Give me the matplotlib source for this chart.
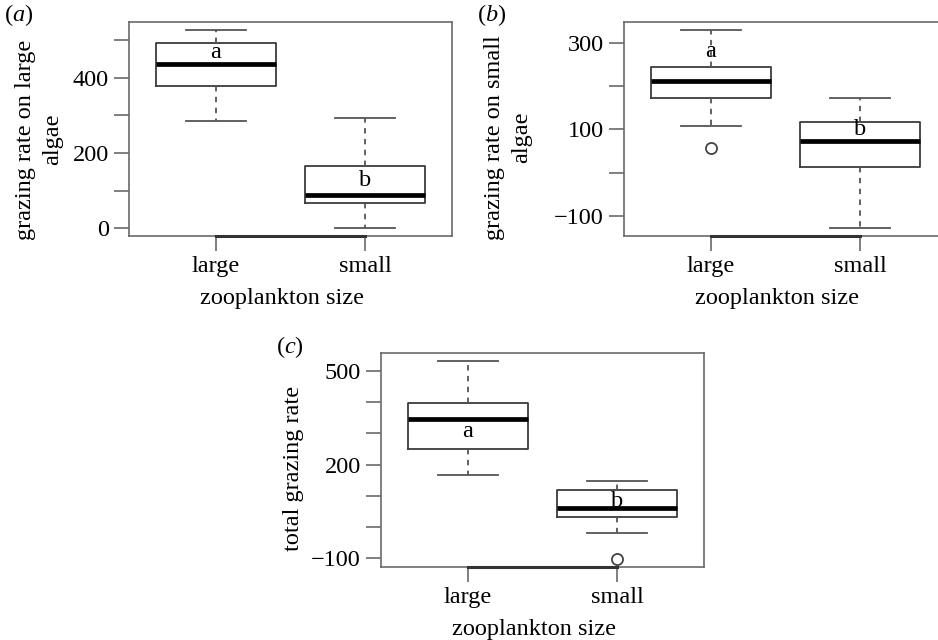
import numpy as np
import matplotlib.pyplot as plt

plt.rcParams['font.family'] = 'Liberation Serif'
plt.rcParams['mathtext.fontset'] = 'custom'
plt.rcParams['mathtext.rm'] = 'Liberation Serif'
plt.rcParams['mathtext.it'] = 'Liberation Serif:italic'

groups = ['large', 'small']
letters = ['a', 'b']

# panel a: grazing on large algae
a_whislo = [285, 0]
a_q1 = [379, 67]
a_med = [437, 88]
a_q3 = [493, 165]
a_whishi = [528, 293]
a_fliers = [[], []]
a_letter_y = [467, 128]

# panel b: grazing on small algae
b_whislo = [109, -129]
b_q1 = [172, 12]
b_med = [213, 72]
b_q3 = [246, 118]
b_whishi = [331, 174]
b_fliers = [[56], []]
b_letter_y = [280, 100]

# panel c: total grazing
c_whislo = [166, -20]
c_q1 = [250, 32]
c_med = [346, 60]
c_q3 = [397, 118]
c_whishi = [532, 147]
c_fliers = [[], [-103]]
c_letter_y = [306, 80]

W, H = 938, 640
fig = plt.figure(figsize=(W/100, H/100), dpi=100)

edge = '#3c3c3c'
frame = '#6a6a6a'
fs = 17.5


def panel(px, whislo, q1, med, q3, whishi, fliers, letter_y,
          ylabel, major, minor, ylab_x, ylab_y):
    left, top, right, bottom = px
    ax = fig.add_axes([left/W, (H-bottom)/H, (right-left)/W, (bottom-top)/H])
    stats = []
    for i in range(len(groups)):
        stats.append(dict(med=med[i], q1=q1[i], q3=q3[i], whislo=whislo[i],
                          whishi=whishi[i], fliers=fliers[i], label=groups[i]))
    pos = np.arange(1, len(groups)+1)
    ax.bxp(stats, positions=pos, widths=0.8, patch_artist=False,
           boxprops=dict(color=edge, lw=1.3),
           medianprops=dict(color='black', lw=3.4, solid_capstyle='butt'),
           whiskerprops=dict(color='#555555', lw=1.3, linestyle=(0, (3, 3))),
           capprops=dict(color='#555555', lw=1.3),
           capwidths=0.4,
           flierprops=dict(marker='o', markersize=8, markerfacecolor='white',
                           markeredgecolor='#444444', markeredgewidth=1.3))
    vals = whislo + whishi + sum(fliers, [])
    lo, hi = min(vals), max(vals)
    r = hi - lo
    ax.set_ylim(lo - 0.04*r, hi + 0.04*r)
    ax.set_xlim(0.42, 2.58)
    for s in ax.spines.values():
        s.set_color(frame)
        s.set_linewidth(1.2)
    ax.plot([pos[0], pos[-1]], [lo - 0.04*r]*2, color='#333333', lw=2.2,
            clip_on=False, zorder=5)
    ax.set_xticks(pos)
    ax.set_xticklabels(groups, fontsize=fs)
    ax.set_yticks(major)
    ax.set_yticks(minor, minor=True)
    ax.set_yticklabels(['\u2212' + str(-v) if v < 0 else str(v) for v in major],
                       fontsize=fs)
    ax.tick_params(axis='both', which='both', length=10.5, width=1.2,
                   color=frame, pad=4)
    ax.tick_params(axis='x', pad=4)
    for i, g in enumerate(letters):
        ax.text(pos[i], letter_y[i], g, ha='center', va='center', fontsize=fs)
    ax.set_ylabel(ylabel, fontsize=fs, linespacing=1.35)
    ax.yaxis.label.set_va('center')
    ax.yaxis.set_label_coords(ylab_x, ylab_y)
    ax.set_xlabel('zooplankton size', fontsize=fs)
    ax.xaxis.label.set_va('center')
    ax.xaxis.set_label_coords(0.475, -0.29)
    return ax


panel((129, 22, 452, 236), a_whislo, a_q1, a_med, a_q3, a_whishi,
      a_fliers, a_letter_y, 'grazing rate on large\nalgae',
      [0, 200, 400], [100, 300, 500], -0.279, 0.45)
panel((624, 22, 947, 236), b_whislo, b_q1, b_med, b_q3, b_whishi,
      b_fliers, b_letter_y, 'grazing rate on small\nalgae',
      [-100, 100, 300], [0, 200], -0.359, 0.46)
panel((381, 353, 704, 567), c_whislo, c_q1, c_med, c_q3, c_whishi,
      c_fliers, c_letter_y, 'total grazing rate',
      [-100, 200, 500], [0, 100, 300, 400], -0.27, 0.46)

fig.text(4/W, (H-15)/H, r'($\it{a}$)', fontsize=fs, va='center', ha='left')
fig.text(477/W, (H-15)/H, r'($\it{b}$)', fontsize=fs, va='center', ha='left')
fig.text(276/W, (H-347)/H, r'($\it{c}$)', fontsize=fs, va='center', ha='left')

fig.savefig('out.png', dpi=100)
